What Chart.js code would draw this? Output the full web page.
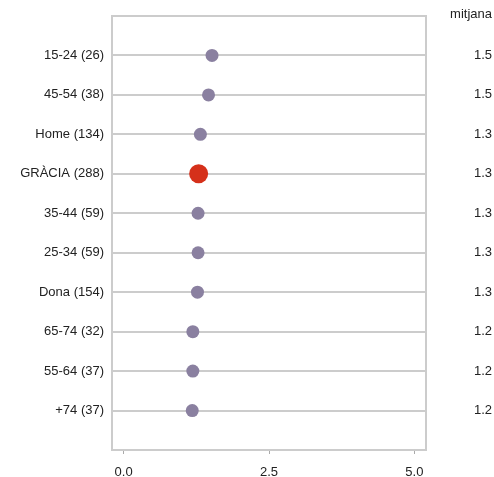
<!DOCTYPE html>
<html lang="ca">

<head>
  <meta charset="UTF-8">
  <title>mitjana</title>
  <script src="https://cdn.jsdelivr.net/npm/chart.js"></script>
  <style>
    body { margin: 0; background: #fff; }
  </style>
</head>

<body>
  <canvas id="meanChart" width="494" height="477"></canvas>

  <script>
    // dades
    const categories = ['15-24 (26)', '45-54 (38)', 'Home (134)', 'GRÀCIA (288)', '35-44 (59)',
      '25-34 (59)', 'Dona (154)', '65-74 (32)', '55-64 (37)', '+74 (37)'];
    const means = [1.52, 1.46, 1.32, 1.29, 1.28, 1.28, 1.27, 1.19, 1.19, 1.18];
    const meanLabels = ['1.5', '1.5', '1.3', '1.3', '1.3', '1.3', '1.3', '1.2', '1.2', '1.2'];
    const xTicks = [0, 2.5, 5];
    const highlight = 'GRÀCIA (288)';

    Chart.defaults.font.family = '"Liberation Sans", Arial, sans-serif';
    Chart.defaults.font.size = 13;
    Chart.defaults.color = '#222';

    // marc gris + títol "mitjana"
    const frame = {
      id: 'frame',
      beforeDatasetsDraw(chart) {
        const { ctx, chartArea: a } = chart;
        ctx.save();
        ctx.strokeStyle = '#cccccc';
        ctx.lineWidth = 2;
        ctx.strokeRect(a.left, a.top, a.right - a.left, a.bottom - a.top);
        ctx.restore();
      },
      afterDraw(chart) {
        const { ctx } = chart;
        const y2 = chart.scales.y2;
        ctx.save();
        ctx.font = '13px "Liberation Sans", Arial, sans-serif';
        ctx.fillStyle = '#222';
        ctx.textAlign = 'right';
        ctx.textBaseline = 'middle';
        ctx.fillText('mitjana', y2.right, chart.chartArea.top - 2);
        ctx.restore();
      }
    };

    const ctx = document.getElementById('meanChart').getContext('2d');
    const meanChart = new Chart(ctx, {
      type: 'scatter',
      data: {
        datasets: [{
          data: categories.map((c, i) => ({ x: means[i], y: i + 1 })),
          backgroundColor: categories.map(c => c === highlight ? '#d5301a' : '#8a80a0'),
          pointRadius: categories.map(c => c === highlight ? 9.5 : 6.5),
          pointBorderWidth: 0,
          yAxisID: 'y'
        }]
      },
      options: {
        responsive: false,
        animation: false,
        layout: { padding: { top: 16, right: 2 } },
        plugins: {
          legend: { display: false },
          tooltip: { enabled: false }
        },
        scales: {
          x: {
            type: 'linear',
            min: -0.2,
            max: 5.2,
            afterBuildTicks: s => { s.ticks = xTicks.map(v => ({ value: v })); },
            afterFit: s => { s.height = 27; },
            ticks: { callback: v => v.toFixed(1), padding: 11, maxRotation: 0 },
            grid: { drawOnChartArea: false, tickLength: 4, color: '#aaaaaa', lineWidth: 1 },
            border: { display: false }
          },
          y: {
            type: 'linear',
            position: 'left',
            reverse: true,
            min: 0,
            max: 11,
            afterBuildTicks: s => { s.ticks = categories.map((c, i) => ({ value: i + 1 })); },
            afterFit: s => { s.width = 112; },
            ticks: { callback: v => categories[v - 1], padding: 8 },
            grid: { color: '#cccccc', lineWidth: 2, drawTicks: false },
            border: { display: false }
          },
          y2: {
            type: 'linear',
            position: 'right',
            reverse: true,
            min: 0,
            max: 11,
            afterBuildTicks: s => { s.ticks = meanLabels.map((m, i) => ({ value: i + 1 })); },
            afterFit: s => { s.width = 66; },
            ticks: { callback: v => meanLabels[v - 1], crossAlign: 'far' },
            grid: { drawOnChartArea: false, drawTicks: false },
            border: { display: false }
          }
        }
      },
      plugins: [frame]
    });
  </script>
</body>

</html>
